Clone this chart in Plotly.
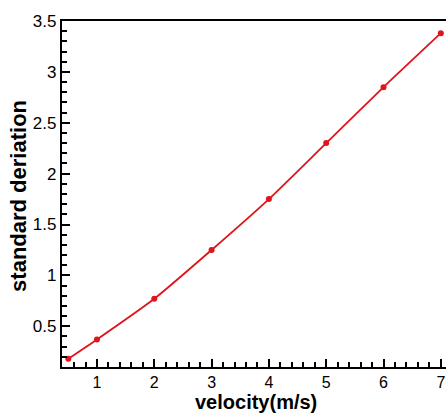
import plotly.graph_objects as go

# measured standard deviation versus flow velocity
velocity = [0.5, 1, 2, 3, 4, 5, 6, 7]
std_dev = [0.18, 0.37, 0.77, 1.25, 1.75, 2.30, 2.85, 3.38]

fig = go.Figure()
fig.add_trace(go.Scatter(
    x=velocity, y=std_dev,
    mode="lines+markers",
    line=dict(color="#e0141c", width=1.8, shape="spline", smoothing=0.6),
    marker=dict(color="#e0141c", size=6),
    showlegend=False,
))

font = "Liberation Sans, Arial, sans-serif"
axis_common = dict(
    showline=True, linecolor="black", linewidth=2.2,
    ticks="inside", ticklen=8, tickwidth=2, tickcolor="black",
    showgrid=False, zeroline=False,
)

fig.update_xaxes(
    range=[0.39, 7.09], dtick=1, tick0=0, mirror=True,
    tickfont=dict(family=font, size=16, color="black"),
    minor=dict(ticks="inside", ticklen=5, tickwidth=1.5, tickcolor="black",
               dtick=0.2, tick0=0, showgrid=False),
    **axis_common,
)
fig.update_yaxes(
    range=[0.1, 3.5], dtick=0.5, tick0=0,
    tickfont=dict(family=font, size=17, color="black"),
    minor=dict(ticks="inside", ticklen=5, tickwidth=1.5, tickcolor="black",
               dtick=0.1, tick0=0, showgrid=False),
    **axis_common,
)

# axis titles placed just outside the tick labels
fig.add_annotation(
    text="<b>velocity(m/s)</b>", xref="paper", yref="paper",
    x=0.505, y=-0.137, xanchor="center", yanchor="bottom", showarrow=False,
    borderpad=0, font=dict(family=font, size=20, color="black"),
)
fig.add_annotation(
    text="<b>standard deriation</b>", xref="paper", yref="paper",
    x=-0.115, y=0.494, xanchor="center", yanchor="middle", textangle=-90,
    showarrow=False, font=dict(family=font, size=22, color="black"),
)

fig.update_layout(
    width=446, height=415,
    margin=dict(l=62, r=0, t=21, b=48),
    paper_bgcolor="white", plot_bgcolor="white",
)

fig.write_html("out.html")
